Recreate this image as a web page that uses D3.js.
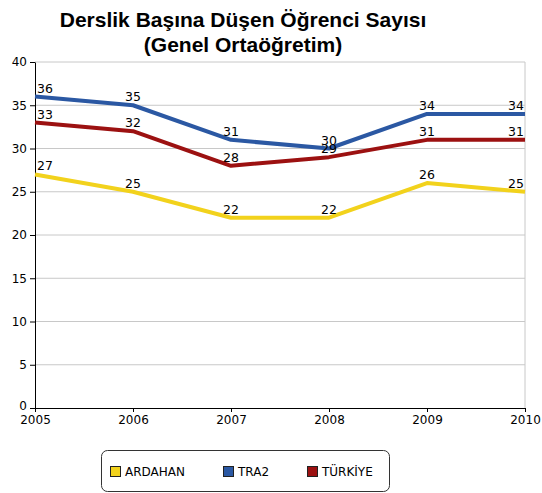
<!DOCTYPE html>
<html lang="tr">
<head>
<meta charset="UTF-8">
<title>Derslik Başına Düşen Öğrenci Sayısı</title>
<script src="https://cdn.jsdelivr.net/npm/d3@7/dist/d3.min.js"></script>
<style>
body { margin: 0; background: #fff; }
text { font-family: "DejaVu Sans", Verdana, sans-serif; }
</style>
</head>
<body>
<svg id="chart" width="542" height="493"></svg>
<script>

// data
const years = [2005, 2006, 2007, 2008, 2009, 2010];
const ardahan = [27, 25, 22, 22, 26, 25];
const tra2 = [36, 35, 31, 30, 34, 34];
const turkiye = [33, 32, 28, 29, 31, 31];
const yTicks = [0, 5, 10, 15, 20, 25, 30, 35, 40];

const seriesNames = ["ARDAHAN", "TRA2", "TÜRKİYE"];
const seriesColors = ["#f2d21c", "#2b58a3", "#9c1111"];
const seriesValues = [ardahan, tra2, turkiye];

const svg = d3.select("#chart");
const plotLeft = 35, plotRight = 525, plotTop = 62, plotBottom = 408;

const x = d3.scaleLinear().domain([2005, 2010]).range([plotLeft, plotRight]);
const y = d3.scaleLinear().domain([0, 40]).range([plotBottom, plotTop]);

// title
svg.append("text")
	.attr("x", 243).attr("y", 27)
	.attr("text-anchor", "middle")
	.style("font-family", "'Liberation Sans', Arial, sans-serif")
	.style("font-weight", "bold").style("font-size", "21px")
	.text("Derslik Başına Düşen Öğrenci Sayısı");
svg.append("text")
	.attr("x", 243).attr("y", 52)
	.attr("text-anchor", "middle")
	.style("font-family", "'Liberation Sans', Arial, sans-serif")
	.style("font-weight", "bold").style("font-size", "21px")
	.text("(Genel Ortaöğretim)");

// grid lines
svg.append("g").selectAll("line")
	.data(yTicks.filter(d => d > 0))
	.join("line")
	.attr("x1", plotLeft).attr("x2", plotRight)
	.attr("y1", d => y(d)).attr("y2", d => y(d))
	.attr("stroke", "#c8c8c8").attr("stroke-width", 1);

// right border
svg.append("line")
	.attr("x1", plotRight).attr("x2", plotRight)
	.attr("y1", plotTop).attr("y2", plotBottom)
	.attr("stroke", "#c8c8c8");

// axes
const yAxis = svg.append("g")
	.attr("transform", `translate(${plotLeft},0)`)
	.call(d3.axisLeft(y).tickValues(yTicks).tickSize(5).tickPadding(3).tickSizeOuter(0));
const xAxis = svg.append("g")
	.attr("transform", `translate(0,${plotBottom})`)
	.call(d3.axisBottom(x).tickValues(years).tickFormat(d3.format("d")).tickSize(4).tickPadding(3).tickSizeOuter(0));

[yAxis, xAxis].forEach(a => {
	a.selectAll("text").style("font-size", "12px").attr("fill", "#000");
	a.selectAll("line").attr("stroke", "#000");
	a.select(".domain").attr("stroke", "#000");
});
// nudge the 0 label up so it clears the year below
yAxis.selectAll(".tick text").filter(d => d === 0).attr("dy", "0.1em");

// lines
const line = d3.line()
	.x((d, i) => x(years[i]))
	.y(d => y(d));

seriesValues.forEach((vals, s) => {
	svg.append("path")
		.datum(vals)
		.attr("d", line)
		.attr("fill", "none")
		.attr("stroke", seriesColors[s])
		.attr("stroke-width", 4)
		.attr("stroke-linejoin", "round");
});

// value labels
seriesValues.forEach(vals => {
	vals.forEach((v, i) => {
		let anchor = "middle", lx = x(years[i]);
		if (i === 0) { anchor = "start"; lx += 2; }
		if (i === years.length - 1) { anchor = "end"; lx -= 1; }
		svg.append("text")
			.attr("x", lx).attr("y", y(v) - 4)
			.attr("text-anchor", anchor)
			.style("font-size", "12.5px")
			.text(v);
	});
});

// legend
const legend = svg.append("g").attr("transform", "translate(101,450)");
legend.append("rect")
	.attr("x", 0.5).attr("y", 0.5)
	.attr("width", 288).attr("height", 41)
	.attr("rx", 6)
	.attr("fill", "#fff").attr("stroke", "#333").attr("stroke-width", 1);

const legendX = [9, 122, 206];
seriesNames.forEach((name, s) => {
	legend.append("rect")
		.attr("x", legendX[s] + 0.5).attr("y", 16.5)
		.attr("width", 10).attr("height", 10)
		.attr("fill", seriesColors[s]).attr("stroke", "#222");
	legend.append("text")
		.attr("x", legendX[s] + 15).attr("y", 26)
		.style("font-size", "12px")
		.text(name);
});

</script>
</body>
</html>
